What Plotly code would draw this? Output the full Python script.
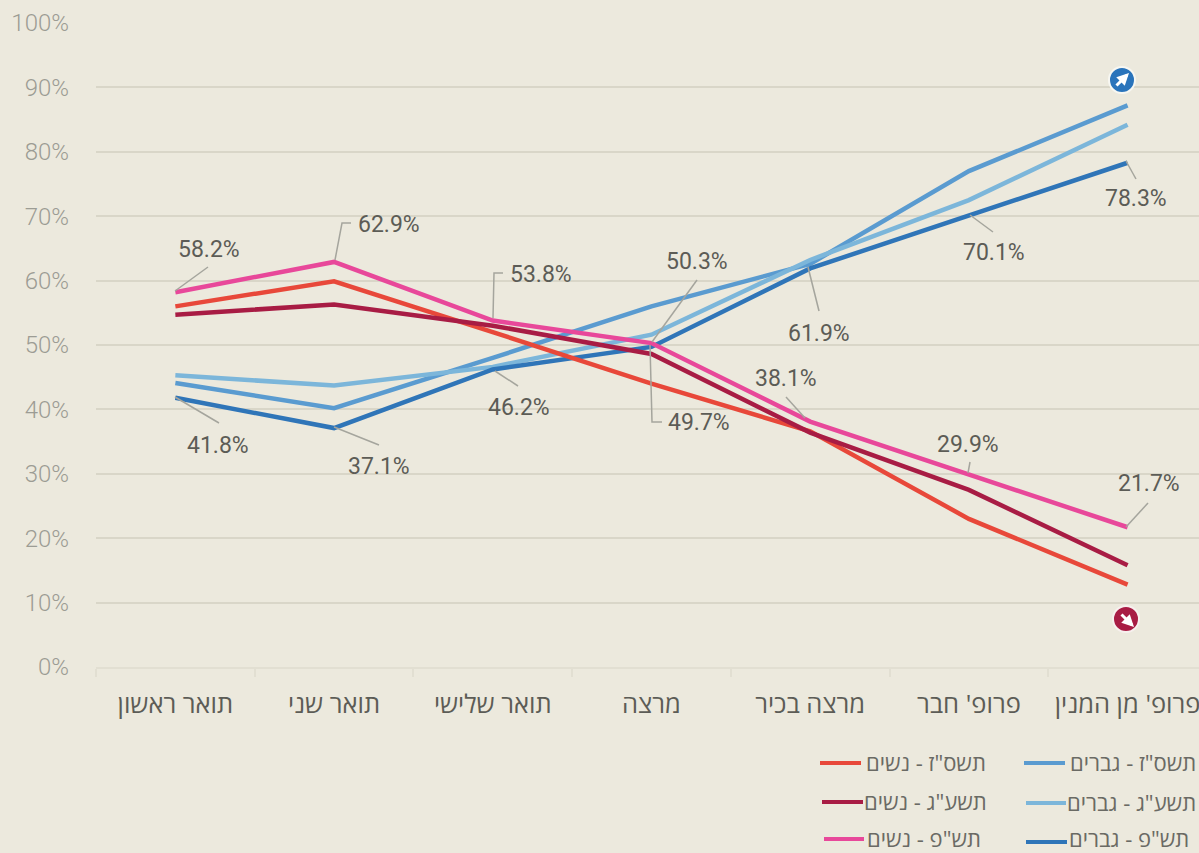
import plotly.graph_objects as go

categories = ["תואר ראשון", "תואר שני", "תואר שלישי", "מרצה", "מרצה בכיר", "פרופ' חבר", "פרופ' מן המנין"]
women_77 = [56.0, 59.9, 52.0, 44.0, 36.6, 23.0, 12.8]
women_73 = [54.7, 56.3, 53.0, 48.6, 36.4, 27.5, 15.8]
women_80 = [58.2, 62.9, 53.8, 50.3, 38.1, 29.9, 21.7]
men_77 = [44.1, 40.2, 48.0, 56.0, 62.6, 77.0, 87.2]
men_73 = [45.3, 43.7, 46.6, 51.6, 63.2, 72.5, 84.2]
men_80 = [41.8, 37.1, 46.2, 49.7, 61.9, 70.1, 78.3]
y_ticks = list(range(0, 101, 10))
y_labels = [f"{v}%" for v in y_ticks]

series = [
    (men_77, "#5a9bd0", 'תשס"ז - גברים'),
    (men_73, "#7cb6da", 'תשע"ג - גברים'),
    (men_80, "#2f75b8", 'תש"פ - גברים'),
    (women_77, "#e8483a", 'תשס"ז - נשים'),
    (women_73, "#a81c44", 'תשע"ג - נשים'),
    (women_80, "#e8489a", 'תש"פ - נשים'),
]
BG = "#ece9dd"
W, H = 1199, 853
L, T, B = 96, 23, 667
TEXT = "#5c5c56"
BODY = "Roboto, sans-serif"
HEB = "'Open Sans', 'Noto Sans', sans-serif"

def py(y): return (B - y) / (B - T)
def fx(x): return (x - L) / (W - L)

fig = go.Figure()
for vals, col, name in series:
    fig.add_trace(go.Scatter(x=categories, y=vals, mode="lines", name=name, showlegend=False,
                             line=dict(color=col, width=4.5), hoverinfo="skip"))

ann = []
def label(x, y, text, size=23, color=TEXT, font=BODY, anchor="left"):
    ann.append(dict(xref="paper", yref="paper", x=fx(x), y=py(y), text=text, showarrow=False,
                    xanchor=anchor, yanchor="middle", align=anchor, borderpad=0,
                    font=dict(size=size, color=color, family=font)))

labels = [
    (177, 249, "58.2%"), (357, 224, "62.9%"), (186, 445, "41.8%"), (347, 466, "37.1%"),
    (509, 274, "53.8%"), (487, 407, "46.2%"), (665, 261, "50.3%"), (667, 422, "49.7%"),
    (787, 333, "61.9%"), (754, 378, "38.1%"), (936, 444, "29.9%"), (962, 253, "70.1%"),
    (1104, 199, "78.3%"), (1117, 483, "21.7%"),
]
for x, y, t in labels:
    label(x, y, t)

leaders = [
    [(175, 291), (208, 267)],
    [(335, 260), (342, 223), (351, 223)],
    [(175, 397), (219, 423)],
    [(334, 427), (379, 445)],
    [(493, 318), (494, 273), (503, 273)],
    [(495, 371), (518, 386)],
    [(652, 342), (697, 280)],
    [(650, 345), (652, 422), (662, 422)],
    [(808, 267), (819, 311)],
    [(805, 418), (786, 397)],
    [(968, 473), (970, 462)],
    [(970, 215), (993, 232)],
    [(1126, 161), (1136, 179)],
    [(1126, 527), (1148, 503)],
]
shapes = []
for pts in leaders:
    d = "M" + " L".join(f"{fx(x):.5f},{py(y):.5f}" for x, y in pts)
    shapes.append(dict(type="path", xref="paper", yref="paper", path=d,
                       line=dict(color="#a5a59d", width=1.5)))

# legend
legend_rows = [
    (1197, 762, 1024, 1065, 0), (1197, 802, 1026, 1066, 1), (1190, 838, 1026, 1067, 2),
    (987, 762, 820, 861, 3), (988, 801, 822, 863, 4), (982, 838, 824, 864, 5),
]
swatch_y = [763, 803, 842, 763, 802, 839]
for (rx, y, x0, x1, i), sy in zip(legend_rows, swatch_y):
    _, col, name = series[i]
    label(rx, y, name, size=22, font=HEB, anchor="right", color="#6a6a64")
    shapes.append(dict(type="line", xref="paper", yref="paper", x0=fx(x0), x1=fx(x1), y0=py(sy), y1=py(sy),
                       line=dict(color=col, width=4)))

# badges
for cx, cy, col, ring in [(1122, 80, "#2a74bb", "#f7f7f2"), (1126, 619, "#a81c44", "#f7f0ee")]:
    shapes.append(dict(type="circle", xref="paper", yref="paper", x0=fx(cx - 13), x1=fx(cx + 13),
                       y0=py(cy + 13), y1=py(cy - 13), fillcolor=col, line=dict(color=ring, width=2)))

# arrows inside badges
ann.append(dict(xref="paper", yref="paper", x=fx(1129), y=py(73), axref="pixel", ayref="pixel", ax=-14, ay=14,
                text="", showarrow=True, arrowhead=2, arrowsize=0.8, arrowwidth=3, arrowcolor="white"))
ann.append(dict(xref="paper", yref="paper", x=fx(1134), y=py(627), axref="pixel", ayref="pixel", ax=-14, ay=-14,
                text="", showarrow=True, arrowhead=2, arrowsize=0.8, arrowwidth=3, arrowcolor="white"))

fig.update_layout(
    width=W, height=H, autosize=False,
    paper_bgcolor=BG, plot_bgcolor=BG,
    margin=dict(l=L, r=0, t=T, b=H - B, pad=0),
    xaxis=dict(type="category", categoryorder="array", categoryarray=categories,
               tickson="boundaries", range=[-0.5, 6.45], showgrid=False, zeroline=False,
               showline=True, linecolor="#e2dfd2", linewidth=2,
               ticks="outside", ticklen=8, tickwidth=2, tickcolor="#e2dfd2",
               tickfont=dict(size=25.5, color=TEXT, family=HEB), ticklabelstandoff=13,
               fixedrange=True),
    yaxis=dict(range=[0, 100], tickmode="array", tickvals=y_ticks, ticktext=y_labels,
               gridcolor="#d9d6c8", gridwidth=2, zeroline=False, showline=False, ticks="",
               tickfont=dict(size=24, color="#9c9c94", family="Roboto Light, Roboto, sans-serif"),
               ticklabelstandoff=26, fixedrange=True),
    annotations=ann, shapes=shapes, showlegend=False,
)
fig.write_html("out.html", config={"displayModeBar": False},
               post_script="document.body.style.margin='0';document.body.style.overflow='hidden';document.body.style.background='#ece9dd';")
